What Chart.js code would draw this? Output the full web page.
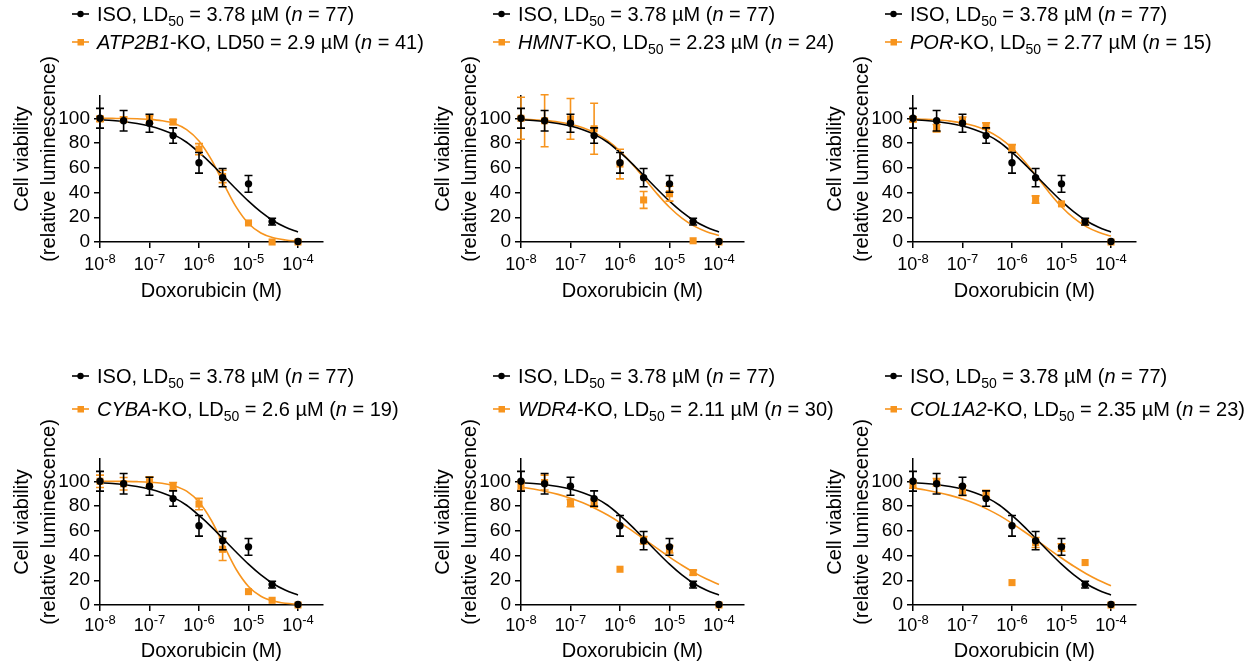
<!DOCTYPE html>
<html>
<head>
<meta charset="utf-8">
<title>Doxorubicin dose response</title>
<script src="https://cdn.jsdelivr.net/npm/chart.js@4.4.0/dist/chart.umd.min.js"></script>
<style>
  body { margin: 0; background: #fff; width: 1260px; height: 669px; overflow: hidden; position: relative; }
  canvas { position: absolute; }
</style>
</head>
<body>
<canvas id="c1" width="440" height="306" style="left:0px;top:0px"></canvas>
<canvas id="c2" width="440" height="306" style="left:421px;top:0px"></canvas>
<canvas id="c3" width="440" height="306" style="left:813px;top:0px"></canvas>
<canvas id="c4" width="440" height="306" style="left:0px;top:363px"></canvas>
<canvas id="c5" width="440" height="306" style="left:421px;top:363px"></canvas>
<canvas id="c6" width="440" height="306" style="left:813px;top:363px"></canvas>
<script>
// doses (M) of the measured points and of the fitted curves
const doses = [1e-8, 3e-8, 1e-7, 3e-7, 1e-6, 3e-6, 1e-5, 3e-5, 1e-4];
const fitDoses = [1e-8, 1.78e-8, 3.16e-8, 5.62e-8, 1e-7, 1.78e-7, 3.16e-7, 5.62e-7,
                  1e-6, 1.78e-6, 3.16e-6, 5.62e-6, 1e-5, 1.78e-5, 3.16e-5, 5.62e-5, 1e-4];
const xTicks = [1e-8, 1e-7, 1e-6, 1e-5, 1e-4];
const xTickSup = ['-8', '-7', '-6', '-5', '-4'];
const yTicks = [0, 20, 40, 60, 80, 100];
const yTitle = ['Cell viability', '(relative luminescence)'];
const xTitle = 'Doxorubicin (M)';

// ISO control (same in every panel)
const isoLD50 = '3.78';
const isoN = 77;
const isoMean = [100, 98, 96, 86, 64, 52, 47, 16.5, 0.5];
const isoErr = [8, 8.3, 7.3, 6.2, 8.3, 7.4, 6.8, 2.7, 2];
const isoFit = [98.8, 98.2, 97.2, 95.8, 93.7, 90.7, 86.6, 80.6, 72.4, 63.2, 53.0, 42.8, 33.0, 24.3, 17.2, 11.9, 8.1];

// knockouts
const koGenes = ['ATP2B1', 'HMNT', 'POR', 'CYBA', 'WDR4', 'COL1A2'];
const koLD50 = ['2.9', '2.23', '2.77', '2.6', '2.11', '2.35'];
const koN = [41, 24, 15, 19, 30, 23];
const koSubscript = [false, true, true, true, true, true];

const atp2b1Mean = [99.5, 99, 99, 97, 75, 53, 15.4, 0, 0];
const atp2b1Err = [2, 2, 3, 2, 4.5, 5, 1, 0.5, 0.5];
const atp2b1Fit = [100, 99.9, 99.8, 99.6, 99.1, 98.0, 95.7, 90.8, 81.6, 66.5, 47.0, 28.4, 15.0, 7.3, 3.4, 1.6, 0.7];

const hmntMean = [100, 98, 99.5, 91.5, 63, 34, 39, 1, 0];
const hmntErr = [17, 21, 16.5, 20.6, 12, 6.8, 6, 0.5, 0.5];
const hmntFit = [99.3, 98.8, 98.1, 97.0, 95.1, 92.3, 88.0, 81.9, 73.5, 62.9, 51.0, 38.9, 28.1, 19.3, 12.8, 8.3, 5.2];

const porMean = [99.2, 92, 98, 93.8, 76.2, 34.3, 30.8, 16, 0];
const porErr = [2, 3, 3, 2.5, 2.5, 3, 1, 2, 0.5];
const porFit = [99.5, 99.2, 98.6, 97.7, 96.2, 93.7, 89.9, 84.1, 76.0, 65.3, 52.9, 40.1, 28.5, 19.2, 12.4, 7.8, 4.8];

const cybaMean = [100, 98, 99.7, 96, 81.6, 45, 10.8, 3.8, 0];
const cybaErr = [5, 5, 4, 3, 4.6, 9, 1, 1, 0.5];
const cybaFit = [100, 99.9, 99.9, 99.7, 99.3, 98.4, 96.3, 92.0, 83.2, 68.3, 48.3, 28.9, 15.0, 7.1, 3.2, 1.4, 0.6];

const wdr4Mean = [96.5, 99, 82.4, 82, 28.9, 52.4, 45, 26.2, 0];
const wdr4Err = [3.5, 6, 3, 3, 0.5, 3, 3, 2, 0.5];
const wdr4Fit = [95.2, 93.7, 91.8, 89.4, 86.3, 82.6, 78.0, 72.7, 66.6, 59.9, 52.9, 45.7, 38.7, 32.1, 26.2, 21.0, 16.6];

const col1a2Mean = [97.3, 99.2, 92.4, 89.7, 18.1, 50.5, 46.5, 34.3, 0];
const col1a2Err = [3, 3, 4, 3, 0.5, 4, 3, 0.5, 0.5];
const col1a2Fit = [94.6, 93.0, 91.0, 88.6, 85.6, 82.0, 77.5, 72.2, 66.0, 59.2, 52.2, 45.0, 38.0, 31.3, 25.3, 20.0, 15.5];

const koMeans = [atp2b1Mean, hmntMean, porMean, cybaMean, wdr4Mean, col1a2Mean];
const koErrs = [atp2b1Err, hmntErr, porErr, cybaErr, wdr4Err, col1a2Err];
const koFits = [atp2b1Fit, hmntFit, porFit, cybaFit, wdr4Fit, col1a2Fit];

const BLACK = '#000000';
const ORANGE = '#F7941D';
const FONT = '"Liberation Sans", Arial, Helvetica, sans-serif';

const rows = [
  { legendBase: [21, 49], tickBase: 270, titleBase: 297 },
  { legendBase: [20, 53], tickBase: 268, titleBase: 294 }
];

function pts(xs, ys) {
  return xs.map((x, i) => ({ x: x, y: ys[i] }));
}

function drawRich(ctx, x, y, parts) {
  parts.forEach(p => {
    const size = p.sub ? 14 : 20;
    ctx.font = (p.it ? 'italic ' : '') + size + 'px ' + FONT;
    ctx.fillText(p.t, x, p.sub ? y + 5 : y);
    x += ctx.measureText(p.t).width;
  });
}

// error bars are drawn under each point dataset
const errorBars = {
  id: 'errorBars',
  beforeDatasetDraw(chart, args) {
    const ds = chart.data.datasets[args.index];
    if (!ds.errors) return;
    const ctx = chart.ctx, ys = chart.scales.y;
    ctx.save();
    ctx.strokeStyle = ds.backgroundColor;
    ctx.lineWidth = 1.6;
    args.meta.data.forEach((el, i) => {
      const e = ds.errors[i];
      const v = ds.data[i].y;
      const yt = ys.getPixelForValue(v + e);
      const yb = ys.getPixelForValue(Math.max(v - e, 0));
      if (yb - yt < 4) return;
      ctx.beginPath();
      ctx.moveTo(el.x, yt); ctx.lineTo(el.x, yb);
      ctx.moveTo(el.x - 4, yt); ctx.lineTo(el.x + 4, yt);
      if (v - e >= 0) { ctx.moveTo(el.x - 4, yb); ctx.lineTo(el.x + 4, yb); }
      ctx.stroke();
    });
    ctx.restore();
  }
};

function textPlugin(i, row) {
  const isoLine = [{ t: 'ISO, LD' }, { t: '50', sub: true }, { t: ' = ' + isoLD50 + ' µM (' },
                   { t: 'n', it: true }, { t: ' = ' + isoN + ')' }];
  const koLine = [{ t: koGenes[i], it: true }];
  if (koSubscript[i]) koLine.push({ t: '-KO, LD' }, { t: '50', sub: true }, { t: ' = ' + koLD50[i] + ' µM (' });
  else koLine.push({ t: '-KO, LD50 = ' + koLD50[i] + ' µM (' });
  koLine.push({ t: 'n', it: true }, { t: ' = ' + koN[i] + ')' });

  return {
    id: 'panelText',
    afterDraw(chart) {
      const ctx = chart.ctx, area = chart.chartArea, xs = chart.scales.x;
      ctx.save();
      ctx.textAlign = 'left';
      ctx.textBaseline = 'alphabetic';

      // legend
      [isoLine, koLine].forEach((line, k) => {
        const base = row.legendBase[k], my = base - 7;
        const col = k === 0 ? BLACK : ORANGE;
        ctx.strokeStyle = col; ctx.fillStyle = col; ctx.lineWidth = 1.6;
        ctx.beginPath(); ctx.moveTo(72, my); ctx.lineTo(89, my); ctx.stroke();
        if (k === 0) { ctx.beginPath(); ctx.arc(80.5, my, 3.2, 0, Math.PI * 2); ctx.fill(); }
        else ctx.fillRect(77.5, my - 3, 6.5, 6.5);
        ctx.fillStyle = BLACK;
        drawRich(ctx, 97, base, line);
      });

      // x tick labels 10^n
      ctx.fillStyle = BLACK;
      xTicks.forEach((v, k) => {
        const px = xs.getPixelForValue(v);
        ctx.font = '18px ' + FONT;
        const w1 = ctx.measureText('10').width;
        ctx.font = '13px ' + FONT;
        const w2 = ctx.measureText(xTickSup[k]).width;
        const x0 = px - (w1 + w2) / 2;
        ctx.font = '18px ' + FONT;
        ctx.fillText('10', x0, row.tickBase);
        ctx.font = '13px ' + FONT;
        ctx.fillText(xTickSup[k], x0 + w1, row.tickBase - 7);
      });

      // axis titles
      ctx.font = '20px ' + FONT;
      ctx.textAlign = 'center';
      ctx.fillText(xTitle, (area.left + area.right) / 2, row.titleBase);
      ctx.textBaseline = 'middle';
      [22, 49].forEach((tx, k) => {
        ctx.save();
        ctx.translate(tx, 159);
        ctx.rotate(-Math.PI / 2);
        ctx.fillText(yTitle[k], 0, 0);
        ctx.restore();
      });
      ctx.restore();
    }
  };
}

function axisStyle() {
  return {
    grid: { drawOnChartArea: false, drawTicks: true, tickLength: 6, color: BLACK, lineWidth: 1.5 },
    border: { display: true, color: BLACK, width: 1.5 }
  };
}

function makePanel(i) {
  const row = rows[i < 3 ? 0 : 1];
  const xAxis = Object.assign({
    type: 'logarithmic', min: 1e-8, max: 3.1623e-4,
    afterBuildTicks: s => { s.ticks = xTicks.map(v => ({ value: v })); },
    afterFit: s => { s.height = 64; },
    ticks: { display: false }
  }, axisStyle());
  const yAxis = Object.assign({
    type: 'linear', min: 0, max: 118,
    afterBuildTicks: s => { s.ticks = yTicks.map(v => ({ value: v })); },
    afterFit: s => { s.width = 100; },
    ticks: { color: BLACK, font: { family: FONT, size: 19 }, padding: 4 }
  }, axisStyle());

  new Chart(document.getElementById('c' + (i + 1)), {
    type: 'scatter',
    data: {
      datasets: [
        { label: 'ISO', data: pts(doses, isoMean), errors: isoErr, pointStyle: 'circle', pointRadius: 3.7,
          backgroundColor: BLACK, borderColor: BLACK, pointBorderWidth: 0, showLine: false, order: 0, clip: false },
        { label: koGenes[i] + '-KO', data: pts(doses, koMeans[i]), errors: koErrs[i], pointStyle: 'rect', pointRadius: 5,
          backgroundColor: ORANGE, borderColor: ORANGE, pointBorderWidth: 0, showLine: false, order: 1, clip: false },
        { type: 'line', label: 'ISO fit', data: pts(fitDoses, isoFit), borderColor: BLACK, borderWidth: 1.6,
          pointRadius: 0, cubicInterpolationMode: 'monotone', fill: false, order: 2, clip: false },
        { type: 'line', label: koGenes[i] + ' fit', data: pts(fitDoses, koFits[i]), borderColor: ORANGE, borderWidth: 1.6,
          pointRadius: 0, cubicInterpolationMode: 'monotone', fill: false, order: 3, clip: false }
      ]
    },
    options: {
      responsive: false,
      animation: false,
      events: [],
      layout: { padding: { left: 0, top: 96, right: 117.25, bottom: 0 } },
      plugins: { legend: { display: false }, tooltip: { enabled: false } },
      scales: { x: xAxis, y: yAxis }
    },
    plugins: [errorBars, textPlugin(i, row)]
  });
}

for (let i = 0; i < 6; i++) makePanel(i);
</script>
</body>
</html>
